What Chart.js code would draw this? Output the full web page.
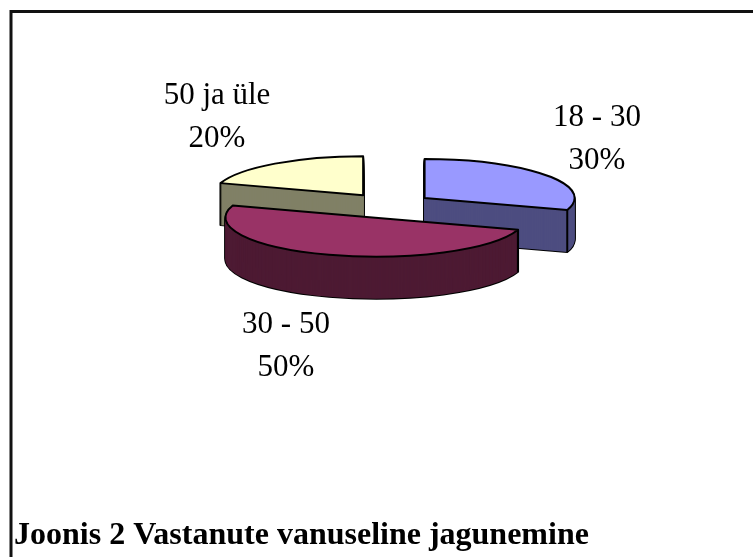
<!DOCTYPE html>
<html>
<head>
<meta charset="utf-8">
<title>Joonis 2</title>
<script src="https://cdn.jsdelivr.net/npm/chart.js@4/dist/chart.umd.min.js"></script>
<style>
    html, body { margin: 0; padding: 0; background: #fff; }
    canvas { display: block; }
</style>
</head>
<body>
<canvas id="chart" width="753" height="557"></canvas>
<script>
var categories = ['18 - 30', '30 - 50', '50 ja üle'];
var shares = [30, 50, 20];
var topColors = ['#9999ff', '#993366', '#ffffcc'];
var sideColors = ['#4d4d80', '#4d1a33', '#808066'];
var chartTitle = 'Joonis 2 Vastanute vanuseline jagunemine';

// page geometry of the squashed pie
var pie = { x: 389, y: 205.5, radius: 150, tilt: 0.26, explodeTilt: 0.29, explode: 44, depth: 42 };
var labelCentres = [[597, 139], [286, 346], [217, 117]];
var labelFont = '31px "Liberation Serif"';
var labelLeading = 43;

function slicePath(ctx, arc, dx, dy) {
    ctx.save();
    ctx.translate(dx, dy);
    ctx.scale(1, pie.tilt);
    ctx.beginPath();
    ctx.moveTo(0, 0);
    ctx.arc(0, 0, arc.outerRadius, arc.startAngle, arc.endAngle);
    ctx.closePath();
    ctx.restore();
}

function sliceApex(arc) {
    var mid = (arc.startAngle + arc.endAngle) / 2;
    return {
        x: pie.x + Math.cos(mid) * pie.explode,
        y: pie.y + Math.sin(mid) * pie.explode * pie.explodeTilt
    };
}

function drawSlice(ctx, arc, i) {
    var apex = sliceApex(arc);
    var d;
    ctx.lineWidth = 2;
    ctx.lineJoin = 'round';
    ctx.strokeStyle = '#000';

    // extruded wall: outline pass first so only the silhouette stays black
    for (d = pie.depth; d > 0; d--) {
        slicePath(ctx, arc, apex.x, apex.y + d);
        ctx.stroke();
    }
    ctx.fillStyle = sideColors[i];
    for (d = pie.depth; d > 0; d--) {
        slicePath(ctx, arc, apex.x, apex.y + d);
        ctx.fill();
    }

    [arc.startAngle, arc.endAngle].forEach(function (a) {
        if (Math.sin(a) <= 0) return;
        var px = apex.x + Math.cos(a) * arc.outerRadius;
        var py = apex.y + Math.sin(a) * arc.outerRadius * pie.tilt;
        ctx.beginPath();
        ctx.moveTo(px, py);
        ctx.lineTo(px, py + pie.depth);
        ctx.stroke();
    });

    slicePath(ctx, arc, apex.x, apex.y);
    ctx.fillStyle = topColors[i];
    ctx.fill();
    ctx.stroke();
}

var tiltedPie = {
    id: 'tiltedPie',
    beforeDraw: function (chart) {
        var ctx = chart.ctx;
        ctx.save();
        ctx.strokeStyle = '#111';
        ctx.lineWidth = 3;
        ctx.beginPath();
        ctx.moveTo(11, chart.height);
        ctx.lineTo(11, 11.5);
        ctx.lineTo(chart.width, 11.5);
        ctx.stroke();
        ctx.restore();
    },
    beforeDatasetsDraw: function (chart) {
        var ctx = chart.ctx;
        var arcs = chart.getDatasetMeta(0).data;
        var order = arcs.map(function (a, i) { return i; });
        order.sort(function (a, b) { return sliceApex(arcs[a]).y - sliceApex(arcs[b]).y; });
        ctx.save();
        order.forEach(function (i) { drawSlice(ctx, arcs[i], i); });
        ctx.restore();

        var total = shares.reduce(function (s, v) { return s + v; }, 0);
        ctx.save();
        ctx.fillStyle = '#000';
        ctx.font = labelFont;
        ctx.textAlign = 'center';
        ctx.textBaseline = 'middle';
        categories.forEach(function (c, i) {
            var pos = labelCentres[i];
            ctx.fillText(c, pos[0], pos[1] - labelLeading / 2);
            ctx.fillText(Math.round(shares[i] / total * 100) + '%', pos[0], pos[1] + labelLeading / 2);
        });
        ctx.restore();
        return false;
    }
};

new Chart(document.getElementById('chart').getContext('2d'), {
    type: 'pie',
    data: {
        labels: categories,
        datasets: [{ data: shares, backgroundColor: topColors, borderColor: '#000', borderWidth: 1 }]
    },
    options: {
        responsive: false,
        animation: false,
        events: [],
        radius: pie.radius,
        layout: { padding: { left: 14, bottom: 2 } },
        plugins: {
            legend: { display: false },
            tooltip: { enabled: false },
            title: {
                display: true,
                text: chartTitle,
                position: 'bottom',
                align: 'start',
                color: '#000',
                padding: 0,
                font: { family: '"Liberation Serif"', size: 32, weight: 'bold' }
            }
        }
    },
    plugins: [tiltedPie]
});
</script>
</body>
</html>
